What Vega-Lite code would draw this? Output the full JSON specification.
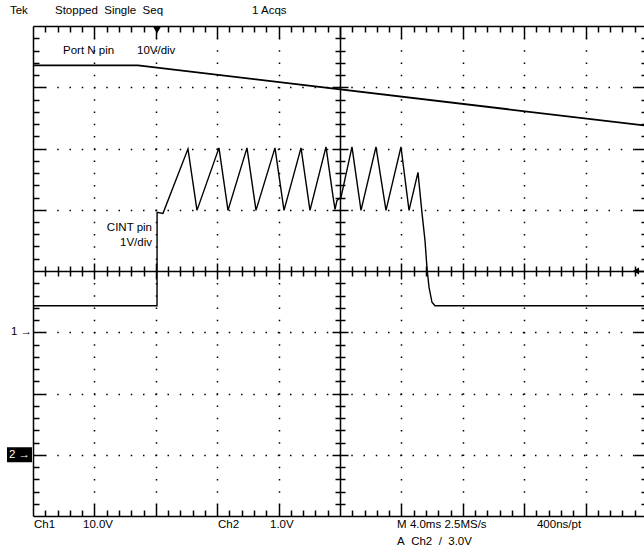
{
  "$schema": "https://vega.github.io/schema/vega-lite/v6.json",
  "width": 611,
  "height": 490,
  "autosize": {"type": "none"},
  "padding": {"left": 33, "top": 26, "right": 0, "bottom": 42},
  "background": "white",
  "config": {
    "view": {"stroke": null},
    "axis": {"labels": false, "title": null, "domainColor": "#000", "tickColor": "#000", "gridColor": "#000", "domainWidth": 1.5, "tickWidth": 1.5},
    "text": {"font": "Liberation Sans", "fontSize": 11.5, "color": "#000"}
  },
  "datasets": {
    "ch1": [
      {"x": 0, "y": 3.356},
      {"x": 1.71, "y": 3.356},
      {"x": 9.951, "y": 2.377}
    ],
    "ch2": [
      {"x": 0, "y": -0.568},
      {"x": 2.02, "y": -0.568},
      {"x": 2.021, "y": 0.958},
      {"x": 2.117, "y": 0.941},
      {"x": 2.524, "y": 1.994},
      {"x": 2.671, "y": 0.99},
      {"x": 3.029, "y": 2.01},
      {"x": 3.176, "y": 0.99},
      {"x": 3.485, "y": 2.01},
      {"x": 3.632, "y": 0.99},
      {"x": 3.941, "y": 2.01},
      {"x": 4.088, "y": 0.99},
      {"x": 4.365, "y": 2.01},
      {"x": 4.511, "y": 0.99},
      {"x": 4.772, "y": 2.026},
      {"x": 4.886, "y": 1.219},
      {"x": 4.919, "y": 1.007},
      {"x": 4.951, "y": 1.153},
      {"x": 5.016, "y": 1.202},
      {"x": 5.195, "y": 2.026},
      {"x": 5.342, "y": 0.99},
      {"x": 5.586, "y": 2.026},
      {"x": 5.749, "y": 0.99},
      {"x": 5.993, "y": 2.026},
      {"x": 6.124, "y": 0.99},
      {"x": 6.27, "y": 1.61},
      {"x": 6.336, "y": 0.941},
      {"x": 6.384, "y": 0.501},
      {"x": 6.417, "y": 0.044},
      {"x": 6.45, "y": -0.266},
      {"x": 6.498, "y": -0.511},
      {"x": 6.547, "y": -0.568},
      {"x": 9.951, "y": -0.568}
    ],
    "labels": [
      {"x": -0.375, "y": 4.24, "text": "Tek"},
      {"x": 0.358, "y": 4.24, "text": "Stopped\u00a0 Single\u00a0 Seq"},
      {"x": 3.567, "y": 4.24, "text": "1 Acqs"},
      {"x": 0.489, "y": 3.6, "text": "Port N pin"},
      {"x": 1.694, "y": 3.6, "text": "10V/div"},
      {"x": 0.016, "y": -4.15, "text": "Ch1"},
      {"x": 0.814, "y": -4.15, "text": "10.0V"},
      {"x": 3.013, "y": -4.15, "text": "Ch2"},
      {"x": 3.86, "y": -4.15, "text": "1.0V"},
      {"x": 5.93, "y": -4.15, "text": "M 4.0ms 2.5MS/s"},
      {"x": 8.208, "y": -4.15, "text": "400ns/pt"},
      {"x": 5.93, "y": -4.42, "text": "A\u00a0 Ch2\u00a0 /\u00a0 3.0V"}
    ],
    "labels_right": [
      {"x": 1.938, "y": 0.697, "text": "CINT pin"},
      {"x": 1.938, "y": 0.452, "text": "1V/div"},
      {"x": -0.016, "y": -1.0, "text": "1 \u2192"}
    ],
    "markers": [
      {"id": "trig_top", "x": 2.02, "y": 3.935},
      {"id": "trig_right", "x": 9.821, "y": 0},
      {"id": "ref2", "x": -0.22, "y": -3.0}
    ]
  },
  "layer": [
    {
      "data": {"name": "ch1"},
      "mark": {"type": "line", "color": "#000", "strokeWidth": 1.8},
      "encoding": {
        "x": {"field": "x", "type": "quantitative", "scale": {"domain": [0, 9.951], "nice": false, "zero": false},
          "axis": {"orient": "bottom", "title": null, "domain": false, "values": [1,2,3,4,6,7,8,9], "tickSize": -12,
            "grid": true, "gridDash": [1.5, 10.75], "gridDashOffset": 0.75, "gridWidth": 1.5}},
        "y": {"field": "y", "type": "quantitative", "scale": {"domain": [-4, 4], "nice": false, "zero": false},
          "axis": {"orient": "left", "title": null, "domain": false, "values": [-3,-2,-1,1,2,3], "tickSize": -12,
            "grid": true, "gridDash": [1.5, 10.75], "gridDashOffset": 0.75, "gridWidth": 1.5}}
      }
    },
    {
      "data": {"name": "ch2"},
      "mark": {"type": "line", "color": "#000", "strokeWidth": 1.4},
      "encoding": {
        "x": {"field": "x", "type": "quantitative", "scale": {"domain": [0, 9.951], "nice": false, "zero": false},
          "axis": {"orient": "bottom", "title": null, "domain": true, "grid": false, "tickSize": -6,
            "values": [0.2,0.4,0.6,0.8,1.2,1.4,1.6,1.8,2.2,2.4,2.6,2.8,3.2,3.4,3.6,3.8,4.2,4.4,4.6,4.8,5.2,5.4,5.6,5.8,6.2,6.4,6.6,6.8,7.2,7.4,7.6,7.8,8.2,8.4,8.6,8.8,9.2,9.4,9.6,9.8]}},
        "y": {"field": "y", "type": "quantitative", "scale": {"domain": [-4, 4], "nice": false, "zero": false},
          "axis": {"orient": "left", "title": null, "domain": true, "grid": false, "tickSize": -6,
            "values": [-3.8,-3.6,-3.4,-3.2,-2.8,-2.6,-2.4,-2.2,-1.8,-1.6,-1.4,-1.2,-0.8,-0.6,-0.4,-0.2,0.2,0.4,0.6,0.8,1.2,1.4,1.6,1.8,2.2,2.4,2.6,2.8,3.2,3.4,3.6,3.8]}}
      }
    },
    {
      "data": {"name": "labels"},
      "mark": {"type": "text", "align": "left", "baseline": "middle"},
      "encoding": {
        "x": {"field": "x", "type": "quantitative", "scale": {"domain": [0, 9.951], "nice": false, "zero": false},
          "axis": {"orient": "top", "title": null, "domain": true, "grid": false, "tickSize": -12, "values": [1,2,3,4,5,6,7,8,9]}},
        "y": {"field": "y", "type": "quantitative", "scale": {"domain": [-4, 4], "nice": false, "zero": false},
          "axis": {"orient": "right", "title": null, "domain": false, "grid": false, "tickSize": -10, "values": [-3,-2,-1,0,1,2,3]}},
        "text": {"field": "text"}
      }
    },
    {
      "data": {"name": "labels_right"},
      "mark": {"type": "text", "align": "right", "baseline": "middle"},
      "encoding": {
        "x": {"field": "x", "type": "quantitative", "scale": {"domain": [0, 9.951], "nice": false, "zero": false},
          "axis": {"orient": "top", "title": null, "domain": false, "grid": false, "tickSize": -6,
            "values": [0.2,0.4,0.6,0.8,1.2,1.4,1.6,1.8,2.2,2.4,2.6,2.8,3.2,3.4,3.6,3.8,4.2,4.4,4.6,4.8,5.2,5.4,5.6,5.8,6.2,6.4,6.6,6.8,7.2,7.4,7.6,7.8,8.2,8.4,8.6,8.8,9.2,9.4,9.6,9.8]}},
        "y": {"field": "y", "type": "quantitative", "scale": {"domain": [-4, 4], "nice": false, "zero": false},
          "axis": {"orient": "right", "title": null, "domain": false, "grid": false, "tickSize": -3,
            "values": [-3.8,-3.6,-3.4,-3.2,-2.8,-2.6,-2.4,-2.2,-1.8,-1.6,-1.4,-1.2,-0.8,-0.6,-0.4,-0.2,0.2,0.4,0.6,0.8,1.2,1.4,1.6,1.8,2.2,2.4,2.6,2.8,3.2,3.4,3.6,3.8]}},
        "text": {"field": "text"}
      }
    },
    {
      "data": {"name": "markers"},
      "transform": [{"filter": "datum.id === 'trig_top'"}],
      "mark": {"type": "point", "shape": "triangle-down", "filled": true, "color": "#000", "opacity": 1, "size": 70},
      "encoding": {
        "x": {"field": "x", "type": "quantitative", "scale": {"domain": [0, 9.951], "nice": false, "zero": false},
          "axis": {"orient": "bottom", "offset": -245, "title": null, "domain": true, "grid": false, "tickSize": -8, "values": [1,2,3,4,6,7,8,9]}},
        "y": {"field": "y", "type": "quantitative", "scale": {"domain": [-4, 4], "nice": false, "zero": false},
          "axis": {"orient": "left", "offset": -307, "title": null, "domain": true, "grid": false, "tickSize": -8, "values": [-3,-2,-1,1,2,3]}}
      }
    },
    {
      "data": {"name": "markers"},
      "transform": [{"filter": "datum.id === 'trig_right'"}],
      "mark": {"type": "point", "shape": "triangle-left", "filled": true, "color": "#000", "opacity": 1, "size": 50},
      "encoding": {
        "x": {"field": "x", "type": "quantitative", "scale": {"domain": [0, 9.951], "nice": false, "zero": false},
          "axis": {"orient": "bottom", "offset": -245, "title": null, "domain": false, "grid": false, "tickSize": 8, "values": [1,2,3,4,6,7,8,9]}},
        "y": {"field": "y", "type": "quantitative", "scale": {"domain": [-4, 4], "nice": false, "zero": false},
          "axis": {"orient": "left", "offset": -307, "title": null, "domain": false, "grid": false, "tickSize": 8, "values": [-3,-2,-1,1,2,3]}}
      }
    },
    {
      "data": {"name": "markers"},
      "transform": [{"filter": "datum.id === 'ref2'"}],
      "mark": {"type": "point", "shape": "M-1,-0.6H1V0.6H-1Z", "filled": true, "color": "#000", "opacity": 1, "size": 625},
      "encoding": {
        "x": {"field": "x", "type": "quantitative", "scale": {"domain": [0, 9.951], "nice": false, "zero": false},
          "axis": {"orient": "bottom", "offset": -245, "title": null, "domain": false, "grid": false, "tickSize": -5,
            "values": [0.2,0.4,0.6,0.8,1.2,1.4,1.6,1.8,2.2,2.4,2.6,2.8,3.2,3.4,3.6,3.8,4.2,4.4,4.6,4.8,5.2,5.4,5.6,5.8,6.2,6.4,6.6,6.8,7.2,7.4,7.6,7.8,8.2,8.4,8.6,8.8,9.2,9.4,9.6,9.8]}},
        "y": {"field": "y", "type": "quantitative", "scale": {"domain": [-4, 4], "nice": false, "zero": false},
          "axis": {"orient": "left", "offset": -307, "title": null, "domain": false, "grid": false, "tickSize": -5,
            "values": [-3.8,-3.6,-3.4,-3.2,-2.8,-2.6,-2.4,-2.2,-1.8,-1.6,-1.4,-1.2,-0.8,-0.6,-0.4,-0.2,0.2,0.4,0.6,0.8,1.2,1.4,1.6,1.8,2.2,2.4,2.6,2.8,3.2,3.4,3.6,3.8]}}
      }
    },
    {
      "data": {"name": "markers"},
      "transform": [{"filter": "datum.id === 'ref2'"}],
      "mark": {"type": "text", "align": "center", "baseline": "middle", "color": "#fff", "text": "2 \u2192", "fontSize": 11.5},
      "encoding": {
        "x": {"field": "x", "type": "quantitative", "scale": {"domain": [0, 9.951], "nice": false, "zero": false},
          "axis": {"orient": "bottom", "offset": -245, "title": null, "domain": false, "grid": false, "tickSize": 5,
            "values": [0.2,0.4,0.6,0.8,1.2,1.4,1.6,1.8,2.2,2.4,2.6,2.8,3.2,3.4,3.6,3.8,4.2,4.4,4.6,4.8,5.2,5.4,5.6,5.8,6.2,6.4,6.6,6.8,7.2,7.4,7.6,7.8,8.2,8.4,8.6,8.8,9.2,9.4,9.6,9.8]}},
        "y": {"field": "y", "type": "quantitative", "scale": {"domain": [-4, 4], "nice": false, "zero": false},
          "axis": {"orient": "left", "offset": -307, "title": null, "domain": false, "grid": false, "tickSize": 5,
            "values": [-3.8,-3.6,-3.4,-3.2,-2.8,-2.6,-2.4,-2.2,-1.8,-1.6,-1.4,-1.2,-0.8,-0.6,-0.4,-0.2,0.2,0.4,0.6,0.8,1.2,1.4,1.6,1.8,2.2,2.4,2.6,2.8,3.2,3.4,3.6,3.8]}}
      }
    }
  ],
  "resolve": {"axis": {"x": "independent", "y": "independent"}}
}
